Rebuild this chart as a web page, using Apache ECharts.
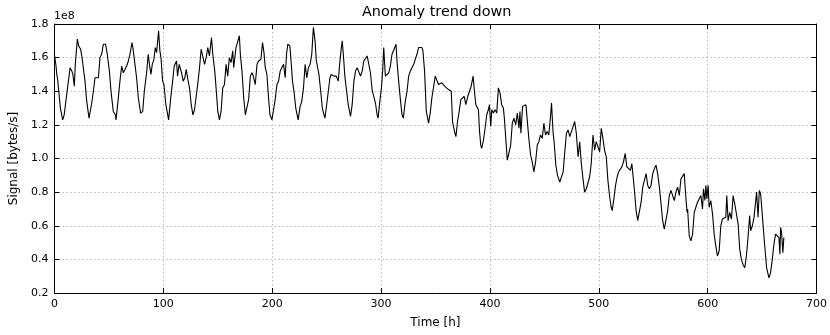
<!DOCTYPE html>
<html>
<head>
<meta charset="utf-8">
<script src="https://cdn.jsdelivr.net/npm/echarts@6/dist/echarts.min.js"></script>
<style>html,body{margin:0;padding:0;background:#fff}#c{width:830px;height:335px}</style>
</head>
<body>
<div id="c"></div>
<script>
// Time [h] of each read point
var hours = [
0,1.5,2.2,3,4,5.5,7.6,9,11.3,14.4,16,17,18.3,19.2,21.1,22.3,24.1,25.4,26.6,28.1,29.7,31.8,34.3,35.8,37.3,38.8,40.4,41.9,43.4,45,47,48.6,50.5,52,54.1,56,56.6,58.4,60.2,61.8,63.3,64.8,66.4,67.9,69.4,71.3,72.5,74,75.5,77.1,79.2,81.1,82.6,84.7,86.2,87.7,88.7,89.9,91.4,92.7,93.9,95.7,96.9,97.9,99.4,100.6,102.4,104.9,106.7,108.6,110.1,112.2,113.1,114.6,116.8,118.3,119.8,
121.1,122.6,124.1,125.7,127.2,128.7,130.2,131.8,133.3,134.8,136.3,137.9,139.4,140.9,142.4,144.3,145.5,147.3,148.5,150.1,151.6,153.1,154.6,156.2,157.7,159.2,160.7,162.3,163.8,164.7,166.8,168.4,169.9,170.8,172.3,173.9,175.4,176.9,178.4,180,181.5,182.7,184.5,186.1,187.6,189.7,191.2,192.5,193.7,195.2,196.7,198,199.8,201.3,202.8,204.4,205.9,207.4,208.9,210.5,212,213.2,214.4,216.3,217.5,218.7,220.2,221.7,223.9,225.7,227.2,228.8,230.3,231.8,233.3,234.9,236.4,237.9,
239.4,240.6,242.1,243,244.6,246.1,247.6,248.5,250.1,251.6,253.1,254.3,256.8,258.9,260.7,262,263.2,264.4,265.6,266.8,268.4,269.9,272,273.5,275.1,276.6,278.1,279.6,281.2,282.7,284.2,285.7,287.3,288.8,290.3,291.8,293.4,294.9,296.4,297.3,298.9,300.4,301.6,302.5,304,305.6,307.1,308.6,310.1,312,313.8,314.7,316.2,317.8,319.3,320.5,322.3,323.9,325.4,326.9,328.4,330,331.5,333,334.5,336.1,337.6,338.5,340,341.6,343.7,345.2,346.7,348.3,349.8,351.3,352.8,
354.4,355.9,357.5,358.4,359.6,362,364.5,365.7,367.5,368.8,370.3,371.8,373.3,374.9,376.4,377.9,379.7,381.3,382.8,384.6,385.8,387.1,388.6,389.5,390.4,391.6,392.5,394.1,395.6,397.1,398.6,399.6,400.8,401.7,403.2,404.7,406.3,407.8,409.3,410.8,412.4,413.3,414.8,416,417.6,419.1,420.6,422.1,423.7,425.2,426.7,427.6,428.5,430,431.6,433.1,434.3,435.9,437.4,438.9,440.4,442,443.5,445,446.5,448.1,449.6,451.1,452.6,454.1,455.7,456.6,458.1,459,460.6,462.1,464.2,465.7,467.3,468.8,470.3,471.8,473.4,474.9,
476.4,477.9,479.4,481,482.5,484,485.5,487,488.6,490.1,491.6,493.1,494.7,496.2,497.7,499.2,500.8,502.3,503.8,505.3,506.9,508.4,509.9,511.4,512.4,513.9,515.4,516.9,518.2,519.7,521.2,522.7,524.3,525.8,527.3,529.1,530.4,531.6,532.8,534.3,535.8,537.4,538.9,540.4,541.9,543.5,545,546.5,548,549.6,551.1,552.6,554.1,555.7,557.2,558.7,560.2,561.8,563.3,564.8,566.3,567.9,569.4,570.9,572.4,574,575.5,577,578.5,580,581.1,
581.6,583.1,584.6,586.2,587.7,589.2,590.7,592.3,593.8,595.3,596.2,597.5,598.4,599.3,600.5,601.4,602.9,604.5,606,607.5,609,610.6,612.1,613.6,615.1,616.7,617.6,618.8,620.3,621.9,623.4,624.9,626.7,628,629.5,631,632.5,634.1,635.6,637.1,638.6,639.5,641.1,642.6,644.1,645,646.3,647.5,648.7,649.9,651.1,652.7,654.2,656.3,657.8,659.4,660.9,662.4,663.9,665.5,666.4,667,667.9,669.1,670
];
// Signal [bytes/s] in units of 1e8
var signal = [
1.62,1.55,1.50,1.47,1.40,1.30,1.23,1.26,1.38,1.54,1.52,1.50,1.43,1.56,1.71,1.67,1.65,1.60,1.59,1.46,1.34,1.24,1.33,1.40,1.48,1.49,1.48,1.60,1.62,1.68,1.68,1.62,1.52,1.40,1.28,1.26,1.23,1.34,1.46,1.55,1.51,1.53,1.55,1.58,1.62,1.69,1.64,1.56,1.48,1.36,1.27,1.28,1.40,1.51,1.62,1.54,1.50,1.56,1.59,1.66,1.63,1.76,1.64,1.60,1.46,1.44,1.32,1.23,1.35,1.46,1.55,1.58,1.49,1.56,1.51,1.46,1.48,
1.53,1.47,1.42,1.32,1.26,1.29,1.29,1.45,1.54,1.65,1.64,1.56,1.60,1.66,1.61,1.72,1.62,1.52,1.42,1.28,1.23,1.28,1.42,1.44,1.56,1.49,1.60,1.57,1.64,1.54,1.66,1.66,1.73,1.62,1.52,1.36,1.26,1.25,1.35,1.49,1.51,1.49,1.44,1.56,1.58,1.59,1.69,1.63,1.54,1.50,1.36,1.26,1.23,1.29,1.35,1.44,1.46,1.52,1.51,1.56,1.48,1.62,1.68,1.67,1.57,1.46,1.39,1.30,1.23,1.31,1.34,1.42,1.56,1.48,1.54,1.56,1.62,1.78,
1.70,1.58,1.58,1.50,1.40,1.30,1.26,1.24,1.32,1.40,1.48,1.50,1.49,1.49,1.46,1.56,1.64,1.70,1.60,1.49,1.40,1.32,1.25,1.32,1.46,1.52,1.54,1.55,1.49,1.52,1.58,1.59,1.61,1.61,1.51,1.41,1.40,1.33,1.26,1.24,1.34,1.42,1.53,1.66,1.49,1.50,1.51,1.55,1.62,1.65,1.68,1.58,1.46,1.35,1.26,1.24,1.34,1.40,1.49,1.52,1.53,1.56,1.57,1.62,1.66,1.66,1.66,1.64,1.52,1.28,1.21,1.27,1.36,1.37,1.49,1.48,1.44,
1.43,1.45,1.46,1.43,1.42,1.41,1.40,1.22,1.16,1.13,1.22,1.28,1.35,1.35,1.37,1.32,1.37,1.40,1.43,1.49,1.40,1.32,1.33,1.29,1.17,1.08,1.06,1.11,1.18,1.26,1.29,1.32,1.19,1.29,1.27,1.29,1.27,1.42,1.39,1.32,1.30,1.24,1.10,0.99,0.99,1.08,1.21,1.24,1.20,1.27,1.18,1.28,1.15,1.31,1.30,1.32,1.23,1.11,1.02,0.98,0.92,0.98,1.08,1.10,1.14,1.12,1.21,1.14,1.16,1.14,1.25,1.33,1.15,1.10,0.96,0.90,0.86,0.85,0.92,1.04,1.15,1.17,1.13,1.12,
1.19,1.22,1.15,1.01,1.10,0.97,0.88,0.80,0.82,0.82,0.89,0.97,1.14,1.05,1.10,1.09,1.04,1.18,1.12,1.05,1.01,0.87,0.78,0.71,0.69,0.76,0.84,0.89,0.92,0.93,0.95,0.98,1.03,0.95,0.96,0.93,0.97,0.89,0.81,0.69,0.63,0.64,0.74,0.83,0.84,0.91,0.84,0.82,0.84,0.91,0.94,0.96,0.91,0.83,0.73,0.63,0.58,0.59,0.69,0.78,0.81,0.82,0.75,0.80,0.83,0.78,0.88,0.88,0.91,0.77,0.68,
0.70,0.54,0.51,0.55,0.68,0.71,0.74,0.73,0.78,0.70,0.82,0.75,0.84,0.76,0.84,0.71,0.75,0.67,0.55,0.48,0.42,0.45,0.60,0.64,0.65,0.65,0.78,0.63,0.68,0.64,0.78,0.73,0.73,0.61,0.46,0.40,0.37,0.35,0.42,0.53,0.66,0.57,0.60,0.65,0.65,0.80,0.65,0.81,0.79,0.69,0.59,0.46,0.35,0.29,0.32,0.40,0.49,0.55,0.54,0.53,0.43,0.59,0.56,0.44,0.53
];
var xTicks = [0,100,200,300,400,500,600,700];
var yTicks = [0.2,0.4,0.6,0.8,1.0,1.2,1.4,1.6,1.8];

var data = hours.map(function (h, i) { return [h, signal[i]]; });
var font = 'DejaVu Sans';
var chart = echarts.init(document.getElementById('c'), null, {renderer: 'canvas'});
function axisX(pos, showLabel) {
  return {
    type: 'value', position: pos, min: xTicks[0], max: xTicks[xTicks.length - 1], interval: 100,
    axisLine: {show: true, onZero: false, lineStyle: {color: '#000', width: 1}},
    axisTick: {show: true, inside: true, length: 5, lineStyle: {color: '#000'}},
    axisLabel: {show: showLabel, color: '#000', fontFamily: font, fontSize: 11, margin: 6},
    splitLine: {show: showLabel, lineStyle: {color: '#b8b8b8', type: [1.5, 2.5], width: 1}},
    name: showLabel ? 'Time [h]' : '', nameLocation: 'middle', nameGap: 24,
    nameTextStyle: {color: '#000', fontFamily: font, fontSize: 12}
  };
}
function axisY(pos, showLabel) {
  return {
    type: 'value', position: pos, min: yTicks[0], max: yTicks[yTicks.length - 1], interval: 0.2,
    axisLine: {show: true, onZero: false, lineStyle: {color: '#000', width: 1}},
    axisTick: {show: true, inside: true, length: 5, lineStyle: {color: '#000'}},
    axisLabel: {show: showLabel, color: '#000', fontFamily: font, fontSize: 11, margin: 6,
      formatter: function (v) { return v.toFixed(1); }},
    splitLine: {show: showLabel, lineStyle: {color: '#b8b8b8', type: [1.5, 2.5], width: 1}},
    name: showLabel ? 'Signal [bytes/s]' : '', nameLocation: 'middle', nameGap: 26, nameRotate: 90,
    nameTextStyle: {color: '#000', fontFamily: font, fontSize: 12}
  };
}
chart.setOption({
  animation: false,
  backgroundColor: '#fff',
  grid: {left: 54, right: 11, top: 24, bottom: 42, containLabel: false},
  xAxis: [axisX('bottom', true), axisX('top', false)],
  yAxis: [axisY('left', true), axisY('right', false)],
  graphic: [
    {type: 'text', x: 436.7, y: 12.6, style: {text: 'Anomaly trend down', font: '14.4px "DejaVu Sans"', fill: '#000', textAlign: 'center', textVerticalAlign: 'middle'}},
    {type: 'text', left: 54, top: 11, style: {text: '1e8', font: '11px "DejaVu Sans"', fill: '#000'}}
  ],
  series: [{
    type: 'line', data: data, xAxisIndex: 0, yAxisIndex: 0,
    showSymbol: false, symbol: 'none',
    lineStyle: {color: '#000', width: 1.1}
  }]
});
</script>
</body>
</html>
